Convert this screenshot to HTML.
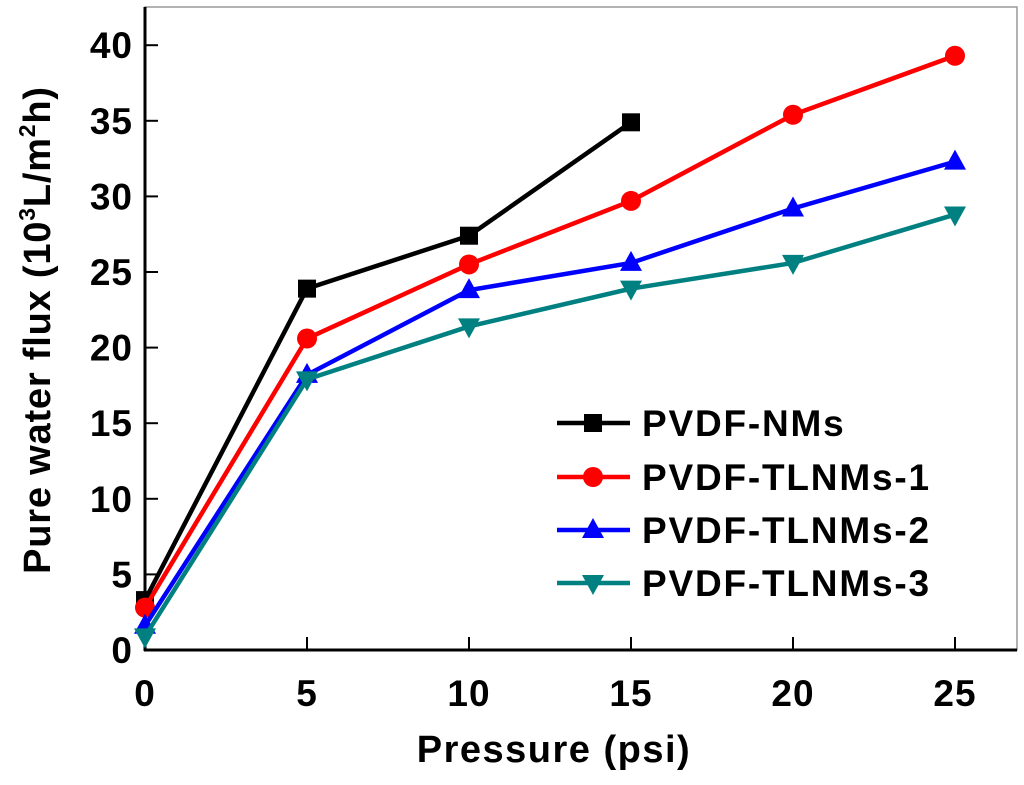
<!DOCTYPE html>
<html><head><meta charset="utf-8"><style>
body{margin:0;background:#fff}
text{font-family:"Liberation Sans",Arial,sans-serif;font-weight:bold}
</style></head><body>
<svg id="c" width="1024" height="780"></svg>
<script>
const pressures=[0,5,10,15,20,25];
const seriesNames=["PVDF-NMs","PVDF-TLNMs-1","PVDF-TLNMs-2","PVDF-TLNMs-3"];
const nms=[3.3,23.9,27.4,34.9];
const tl1=[2.8,20.6,25.5,29.7,35.4,39.3];
const tl2=[1.6,18.2,23.8,25.6,29.2,32.3];
const tl3=[0.9,17.9,21.4,23.9,25.6,28.8];
const xTicks=[0,5,10,15,20,25];
const yTicks=[0,5,10,15,20,25,30,35,40];
const X=v=>145+v*32.4, Y=v=>650-v*15.12;
const svg=document.getElementById('c');
const NS='http://www.w3.org/2000/svg';
function el(t,a,p){const e=document.createElementNS(NS,t);for(const k in a)e.setAttribute(k,a[k]);(p||svg).appendChild(e);return e;}
let e;
e=el('rect',{x:145,y:7,width:872,height:643,fill:'none',stroke:'#999','stroke-width':1.5});

e=el('line',{x1:145,y1:7,x2:145,y2:651,stroke:'#000','stroke-width':3});

e=el('line',{x1:144,y1:650,x2:1017,y2:650,stroke:'#000','stroke-width':3});

xTicks.forEach(v=>{
 e=el('line',{x1:X(v),y1:650,x2:X(v),y2:637,stroke:'#000','stroke-width':2});
 
 e=el('text',{x:X(v),y:706,'text-anchor':'middle','font-size':37,'letter-spacing':1});e.textContent=v;
 
});
yTicks.forEach(v=>{
 e=el('line',{x1:145,y1:Y(v),x2:158,y2:Y(v),stroke:'#000','stroke-width':2});
 
 e=el('text',{x:133,y:Y(v)+13,'text-anchor':'end','font-size':37,'letter-spacing':1});e.textContent=v;
 
});
e=el('text',{x:554,y:762,'text-anchor':'middle','font-size':38,'letter-spacing':1.5});e.textContent='Pressure (psi)';

e=el('text',{x:0,y:0,'text-anchor':'middle','font-size':38,'letter-spacing':0.8,transform:'translate(50,330) rotate(-90)'});
e.innerHTML='Pure water flux (10<tspan font-size="23" dy="-15">3</tspan><tspan dy="15">L/m</tspan><tspan font-size="23" dy="-15">2</tspan><tspan dy="15">h)</tspan>';

const colors=['#000','#ff0000','#0000ff','#008080'];
const shapes=['sq','ci','up','dn'];
function marker(g,s,x,y,c){
 if(s==='sq')return el('rect',{x:x-9,y:y-9,width:18,height:18,fill:c},g);
 if(s==='ci')return el('circle',{cx:x,cy:y,r:10,fill:c},g);
 if(s==='up')return el('polygon',{points:`${x},${y-12} ${x-11},${y+8} ${x+11},${y+8}`,fill:c},g);
 return el('polygon',{points:`${x},${y+12} ${x-11},${y-8} ${x+11},${y-8}`,fill:c},g);
}
[nms,tl1,tl2,tl3].forEach((d,i)=>{
 const g=el('g',{});
 
 
 const pts=d.map((v,j)=>X(pressures[j])+','+Y(v)).join(' ');
 el('polyline',{points:pts,fill:'none',stroke:colors[i],'stroke-width':4.5},g);
 d.forEach((v,j)=>{const m=marker(g,shapes[i],X(pressures[j]),Y(v),colors[i]);
  });
});
const ly=[423,477,530,583];
seriesNames.forEach((n,i)=>{
 const g=el('g',{});
 
 
 el('line',{x1:557,y1:ly[i],x2:630,y2:ly[i],stroke:colors[i],'stroke-width':4.5},g);
 marker(g,shapes[i],593,ly[i],colors[i]);
 const t=el('text',{x:642,y:ly[i]+13,'font-size':37,'letter-spacing':1.8},g);t.textContent=n;
});
</script>
</body></html>
